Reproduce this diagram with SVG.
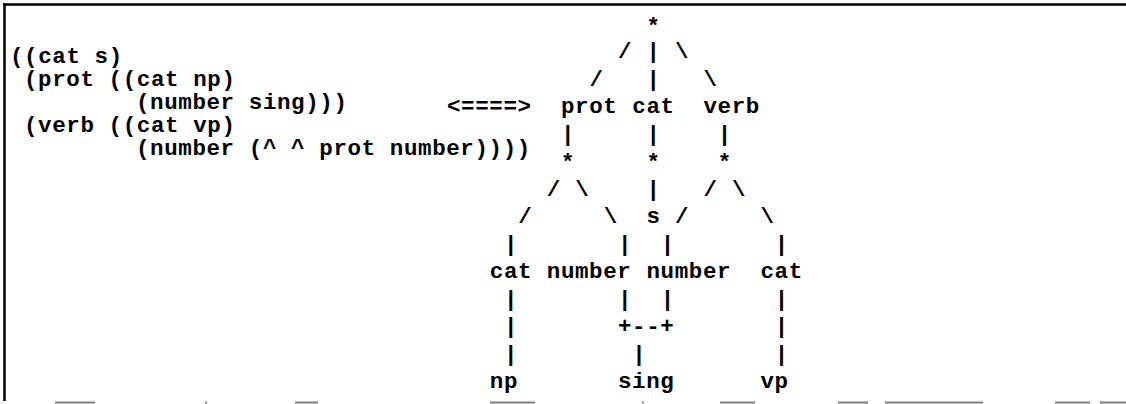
<svg xmlns="http://www.w3.org/2000/svg" width="1126" height="404" viewBox="0 0 1126 404">
<style>
text{font-family:"Liberation Mono","DejaVu Sans Mono",monospace;font-size:22.5px;letter-spacing:0.6px;font-weight:bold;fill:#000}
.m{text-anchor:middle}
.frame{stroke:#000;stroke-width:2.5;fill:none}
.edge{stroke:#808080;stroke-width:2;fill:none}
</style>
<rect width="1126" height="404" fill="#fff"/>
<g id="frame">
<path class="frame" d="M3,4.5 H1126 M4.5,3 V401"/>
<path class="edge" d="M55,402.5 H95 M205,402.5 H207 M295,402.5 H318 M490,402.5 H535 M642,402.5 H644 M720,402.5 H755 M838,402.5 H868 M885,402.5 H983 M1055,402.5 H1090 M1100,402.5 H1126"/>
</g>
<g id="fstructure">
<text x="10" y="63">((cat s)</text>
<text x="24" y="86">(prot ((cat np)</text>
<text x="136" y="109">(number sing)))</text>
<text x="24" y="132">(verb ((cat vp)</text>
<text x="136" y="155">(number (^ ^ prot number))))</text>
</g>
<g id="equiv"><text x="447" y="113">&lt;====&gt;</text></g>
<g id="root"><text class="m" x="653.6" y="33">*</text></g>
<g id="prot"><text x="561" y="113">prot</text></g>
<g id="cat"><text x="632.3" y="113">cat</text></g>
<g id="verb"><text x="703.5" y="113">verb</text></g>
<g id="prot-node"><text class="m" x="568.1" y="169">*</text></g>
<g id="cat-node"><text class="m" x="653.6" y="169">*</text></g>
<g id="verb-node"><text class="m" x="724.9" y="169">*</text></g>
<g id="s"><text class="m" x="653.6" y="223">s</text></g>
<g id="prot-cat"><text x="489.8" y="278">cat</text></g>
<g id="prot-number"><text x="546.8" y="278">number</text></g>
<g id="verb-number"><text x="646.5" y="278">number</text></g>
<g id="verb-cat"><text x="760.5" y="278">cat</text></g>
<g id="np"><text x="489.8" y="388">np</text></g>
<g id="sing"><text x="618" y="388">sing</text></g>
<g id="vp"><text x="760.5" y="388">vp</text></g>
<g id="connectors">
<text class="m" x="625.1" y="58">/</text><text class="m" x="653.6" y="58">|</text><text class="m" x="682.1" y="58">\</text>
<text class="m" x="596.6" y="85.5">/</text><text class="m" x="653.6" y="85.5">|</text><text class="m" x="710.6" y="85.5">\</text>
<text class="m" x="568.1" y="140.5">|</text><text class="m" x="653.6" y="140.5">|</text><text class="m" x="724.9" y="140.5">|</text>
<text class="m" x="553.9" y="195.5">/</text><text class="m" x="582.4" y="195.5">\</text><text class="m" x="653.6" y="195.5">|</text><text class="m" x="710.6" y="195.5">/</text><text class="m" x="739.1" y="195.5">\</text>
<text class="m" x="525.4" y="223">/</text><text class="m" x="610.9" y="223">\</text><text class="m" x="682.1" y="223">/</text><text class="m" x="767.6" y="223">\</text>
<text class="m" x="511.1" y="250.5">|</text><text class="m" x="625.1" y="250.5">|</text><text class="m" x="667.9" y="250.5">|</text><text class="m" x="781.9" y="250.5">|</text>
<text class="m" x="511.1" y="305.5">|</text><text class="m" x="625.1" y="305.5">|</text><text class="m" x="667.9" y="305.5">|</text><text class="m" x="781.9" y="305.5">|</text>
<text class="m" x="511.1" y="333">|</text><text x="618" y="333">+--+</text><text class="m" x="781.9" y="333">|</text>
<text class="m" x="511.1" y="360.5">|</text><text class="m" x="639.4" y="360.5">|</text><text class="m" x="781.9" y="360.5">|</text>
</g>
</svg>
